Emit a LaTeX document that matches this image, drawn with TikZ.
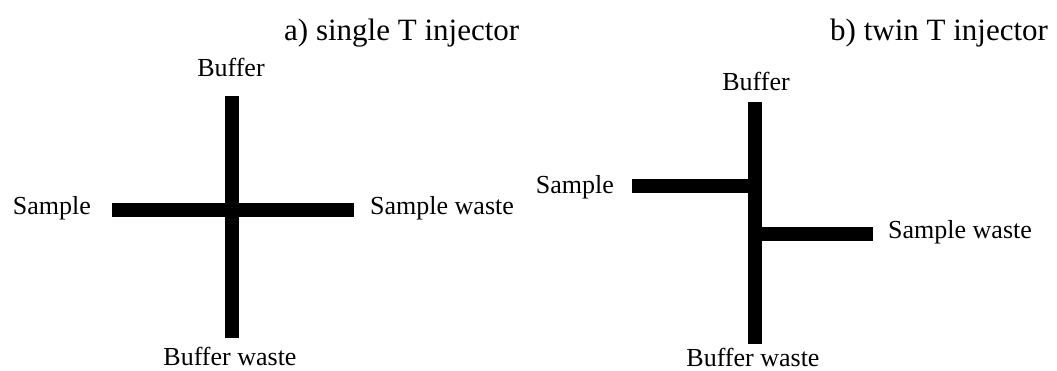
\documentclass[tikz,border=0pt]{standalone}
\usepackage{fontspec}
\setmainfont{Liberation Serif}
\begin{document}
\begin{tikzpicture}[x=1pt,y=-1pt,
  bar/.style={line width=14pt,line cap=butt,black},
  lbl/.style={inner sep=0pt,font=\fontsize{26}{30}\selectfont},
  ttl/.style={inner sep=0pt,font=\fontsize{31}{36}\selectfont}]
\useasboundingbox (0,0) rectangle (1057,370);
% titles
\node[ttl,anchor=base west] (ta) at (284,40) {a) single T injector};
\node[ttl,anchor=base west] (tb) at (830,40) {b) twin T injector};
% panel a
\coordinate (aTop) at (231.5,96);
\coordinate (aBot) at (231.5,338);
\coordinate (aL) at (112,210);
\coordinate (aR) at (354,210);
\draw[bar] (aTop) -- (aBot);
\draw[bar] (aL) -- (aR);
\node[lbl,anchor=base] (aBuf) at (231,76) {Buffer};
\node[lbl,anchor=base east] (aSam) at (91,214) {Sample};
\node[lbl,anchor=base west] (aSw) at (370,214) {Sample waste};
\node[lbl,anchor=base] (aBw) at (230,365) {Buffer waste};
% panel b
\coordinate (bTop) at (754.5,102);
\coordinate (bBot) at (754.5,344);
\coordinate (bL) at (632,186);
\coordinate (bLj) at (754.5,186);
\coordinate (bRj) at (754.5,234);
\coordinate (bR) at (873,234);
\draw[bar] (bTop) -- (bBot);
\draw[bar] (bL) -- (bLj);
\draw[bar] (bRj) -- (bR);
\node[lbl,anchor=base] (bBuf) at (756,90) {Buffer};
\node[lbl,anchor=base east] (bSam) at (614,193) {Sample};
\node[lbl,anchor=base west] (bSw) at (888,238) {Sample waste};
\node[lbl,anchor=base] (bBw) at (753,366) {Buffer waste};
\end{tikzpicture}
\end{document}
